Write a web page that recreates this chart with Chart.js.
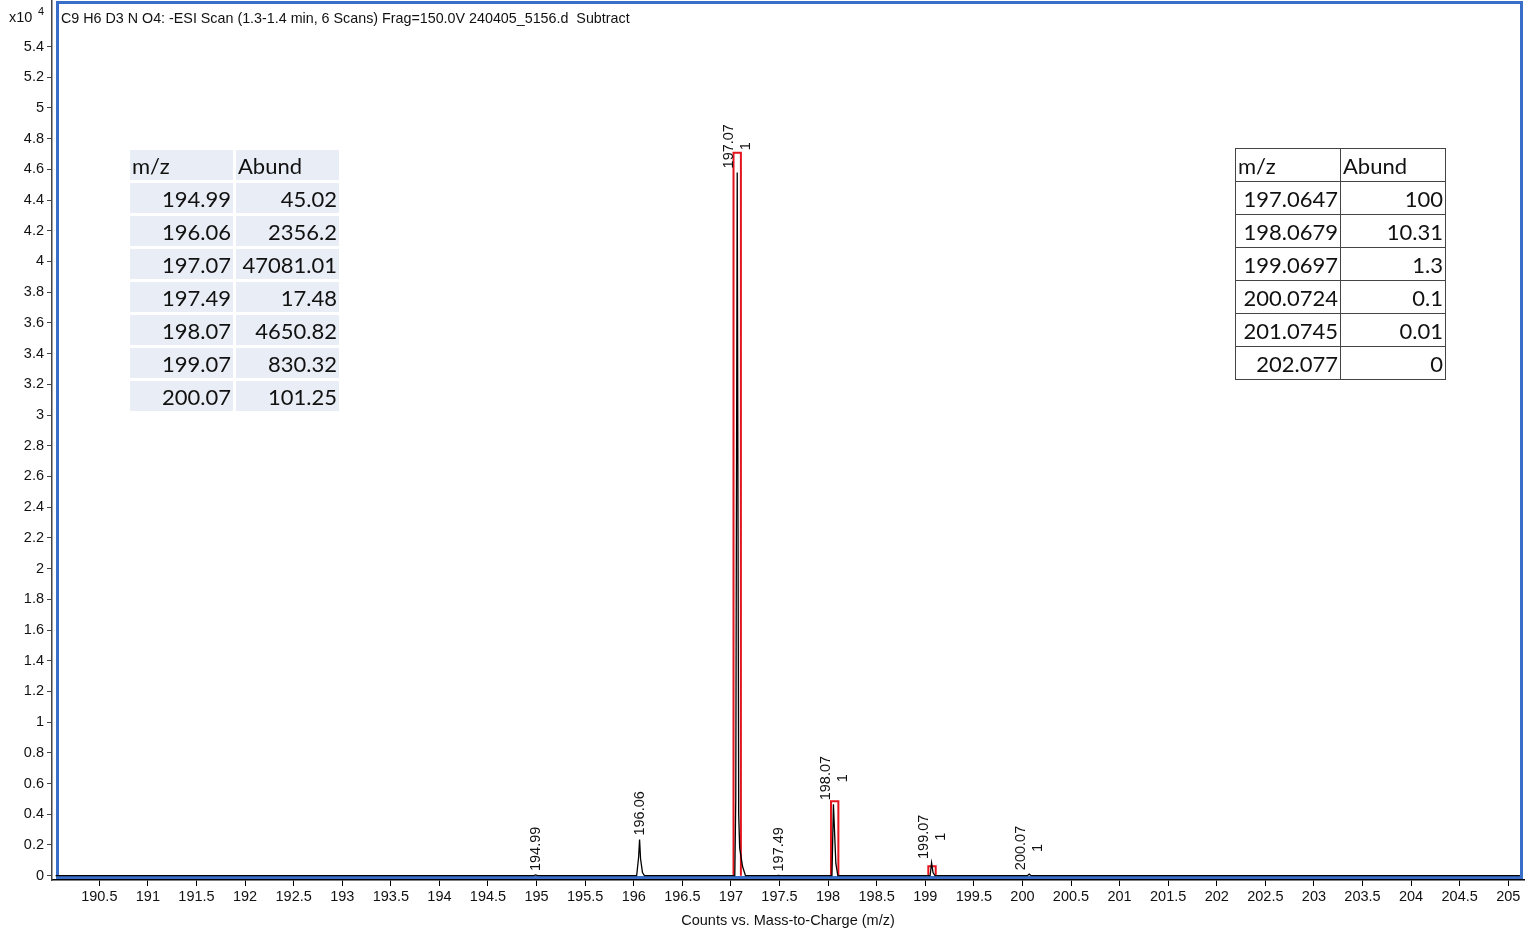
<!DOCTYPE html>
<html>
<head>
<meta charset="utf-8">
<script src="https://cdn.jsdelivr.net/npm/chart.js@4.4.1/dist/chart.umd.min.js"></script>
<style>
body{margin:0;background:#fff;}
#wrap{position:relative;width:1528px;height:935px;}
#chart{position:absolute;left:0;top:0;}
table{position:absolute;font-family:Lato,"Open Sans",sans-serif;font-size:22px;color:#111;}
#peaks{left:127px;top:147px;border-collapse:separate;border-spacing:3px;}
#peaks td{background:#e9edf5;height:30px;width:103px;padding:0 2px;text-align:right;box-sizing:border-box;}
#peaks tr:first-child td{text-align:left;}
#theo{left:1235px;top:148px;border-collapse:collapse;}
#theo td{border:1.5px solid #444;height:33px;width:105px;padding:0 2px;text-align:right;box-sizing:border-box;}
#theo tr:first-child td{text-align:left;}
</style>
</head>
<body>
<div id="wrap">
<canvas id="chart" width="1528" height="935"></canvas>
<table id="peaks"></table>
<table id="theo"></table>
</div>
<script>
// measured peak list (left table + labels)
const peakMz = [194.99, 196.06, 197.07, 197.49, 198.07, 199.07, 200.07];
const peakAbund = [45.02, 2356.2, 47081.01, 17.48, 4650.82, 830.32, 101.25];
const peakCharge = [0, 0, 1, 0, 1, 1, 1];

// predicted isotope pattern (right table + red boxes)
const theoMz = [197.0647, 198.0679, 199.0697, 200.0724, 201.0745, 202.077];
const theoAbund = [100, 10.31, 1.3, 0.1, 0.01, 0];

// profile trace
const profileMz = [190.05, 194.97, 194.99, 195.01, 196.03, 196.05, 196.06, 196.07, 196.09, 196.11,
  197.04, 197.05, 197.065, 197.08, 197.09, 197.10, 197.12, 197.15, 197.47, 197.49, 197.51,
  198.04, 198.055, 198.08, 198.10, 199.05, 199.065, 199.08, 199.10, 200.05, 200.07, 200.09, 205.12];
const profileCounts = [0, 0, 45, 0, 0, 1200, 2356, 1100, 200, 0,
  0, 5000, 45800, 4000, 1800, 1400, 600, 0, 0, 17, 0,
  0, 4650, 800, 0, 0, 830, 200, 0, 0, 101, 0, 0];

const xTicks = [190.5, 191, 191.5, 192, 192.5, 193, 193.5, 194, 194.5, 195, 195.5, 196, 196.5, 197, 197.5,
  198, 198.5, 199, 199.5, 200, 200.5, 201, 201.5, 202, 202.5, 203, 203.5, 204, 204.5, 205];
const yTicks = [0, 0.2, 0.4, 0.6, 0.8, 1, 1.2, 1.4, 1.6, 1.8, 2, 2.2, 2.4, 2.6, 2.8, 3, 3.2, 3.4,
  3.6, 3.8, 4, 4.2, 4.4, 4.6, 4.8, 5, 5.2, 5.4];

const titleText = 'C9 H6 D3 N O4: -ESI Scan (1.3-1.4 min, 6 Scans) Frag=150.0V 240405_5156.d  Subtract';

// tables
function fillTable(id, head, a, b){
    const t = document.getElementById(id);
    let html = '<tr><td>' + head[0] + '</td><td>' + head[1] + '</td></tr>';
    for (let i = 0; i < a.length; i++) {
        html += '<tr><td>' + String(a[i]) + '</td><td>' + String(b[i]) + '</td></tr>';
    }
    t.innerHTML = html;
}
fillTable('peaks', ['m/z', 'Abund'], peakMz, peakAbund);
fillTable('theo', ['m/z', 'Abund'], theoMz, theoAbund);

const scaleTo = peakAbund[peakMz.indexOf(197.07)] / 100;
const boxHalf = 0.038;
// only the boxes tall enough to show up are drawn
const boxSets = theoMz.filter((mz, i) => theoAbund[i] >= 1).map((mz, i) => ({
    data: [
        {x: mz - boxHalf, y: 0},
        {x: mz - boxHalf, y: theoAbund[i] * scaleTo},
        {x: mz + boxHalf, y: theoAbund[i] * scaleTo},
        {x: mz + boxHalf, y: 0}
    ],
    borderColor: '#e3141c',
    borderWidth: 2,
    pointRadius: 0,
    fill: false,
    showLine: true
}));

const axFont = '14.5px "Liberation Sans", Arial, sans-serif';

const framePlugin = {
    id: 'frame',
    beforeDatasetsDraw(chart){
        const a = chart.chartArea, c = chart.ctx;
        c.save();
        c.strokeStyle = '#3a6fc9';
        c.lineWidth = 3;
        c.strokeRect(a.left + 5.5, a.top + 2.5, a.right - a.left - 8, a.bottom - a.top - 5);
        c.restore();
    },
    afterDraw(chart){
        const c = chart.ctx;
        c.save();
        c.fillStyle = '#111';
        c.font = '14.3px "Liberation Sans", Arial, sans-serif';
        c.textBaseline = 'middle';
        c.fillText(titleText, 61, 19);
        c.font = axFont;
        c.fillText('x10', 9, 18);
        c.font = '11px "Liberation Sans", Arial, sans-serif';
        c.fillText('4', 38, 12);
        c.restore();
    }
};

// labels sit just above the top of the profile trace
const labelPlugin = {
    id: 'peakLabels',
    afterDatasetsDraw(chart){
        const xs = chart.scales.x, ys = chart.scales.y, c = chart.ctx;
        c.save();
        c.fillStyle = '#111';
        c.font = axFont;
        c.textBaseline = 'middle';
        peakMz.forEach((mz, i) => {
            let top = 0;
            profileMz.forEach((m, j) => {
                if (Math.abs(m - mz) < 0.03 && profileCounts[j] > top) top = profileCounts[j];
            });
            if (!top) top = peakAbund[i];
            const x = xs.getPixelForValue(mz);
            const y = ys.getPixelForValue(top) - 4;
            const txt = mz.toFixed(2);
            const w = c.measureText(txt).width;
            c.save();
            c.translate(x, y);
            c.rotate(-Math.PI / 2);
            if (peakCharge[i]) {
                c.textAlign = 'left';
                c.fillText(txt, 0, -8.5);
                c.textAlign = 'center';
                c.fillText(String(peakCharge[i]), w / 2, 8.5);
            } else {
                c.textAlign = 'left';
                c.fillText(txt, 0, 0);
            }
            c.restore();
        });
        c.restore();
    }
};

const tickFont = {family: '"Liberation Sans", Arial, sans-serif', size: 14.5};

function noPad(s){
    s.paddingTop = 0; s.paddingBottom = 0; s.paddingLeft = 0; s.paddingRight = 0;
}

new Chart(
    document.getElementById('chart'),
    {
        type: 'line',
        data: {
            datasets: [
                {
                    data: profileMz.map((m, i) => ({x: m, y: profileCounts[i]})),
                    borderColor: '#000',
                    borderWidth: 1.3,
                    pointRadius: 0,
                    tension: 0
                }
            ].concat(boxSets)
        },
        options: {
            responsive: false,
            animation: false,
            devicePixelRatio: 1,
            layout: {padding: {top: 0, right: 4, left: 0, bottom: 0}},
            plugins: {
                legend: {display: false},
                tooltip: {enabled: false}
            },
            scales: {
                x: {
                    type: 'linear',
                    min: 190.013,
                    max: 205.162,
                    afterBuildTicks: s => { s.ticks = xTicks.map(v => ({value: v})); },
                    afterFit: s => { s.height = 55; noPad(s); },
                    ticks: {
                        autoSkip: false,
                        maxRotation: 0,
                        padding: 2,
                        color: '#111',
                        font: tickFont,
                        callback: v => String(v)
                    },
                    grid: {drawOnChartArea: false, drawTicks: true, tickLength: 6, color: '#000'},
                    border: {color: '#000', width: 1.5},
                    title: {
                        display: true,
                        text: 'Counts vs. Mass-to-Charge (m/z)',
                        color: '#111',
                        font: tickFont,
                        padding: {top: 2, bottom: 5}
                    }
                },
                y: {
                    min: -280,
                    max: 57030,
                    afterBuildTicks: s => { s.ticks = yTicks.map(v => ({value: Math.round(v * 10000)})); },
                    afterFit: s => { s.width = 52; noPad(s); },
                    ticks: {
                        autoSkip: false,
                        padding: 3,
                        color: '#111',
                        font: tickFont,
                        callback: v => String(Math.round(v / 1000) / 10)
                    },
                    grid: {drawOnChartArea: false, drawTicks: true, tickLength: 5, color: '#444'},
                    border: {color: '#444', width: 1.5}
                }
            }
        },
        plugins: [framePlugin, labelPlugin]
    }
);
</script>
</body>
</html>
